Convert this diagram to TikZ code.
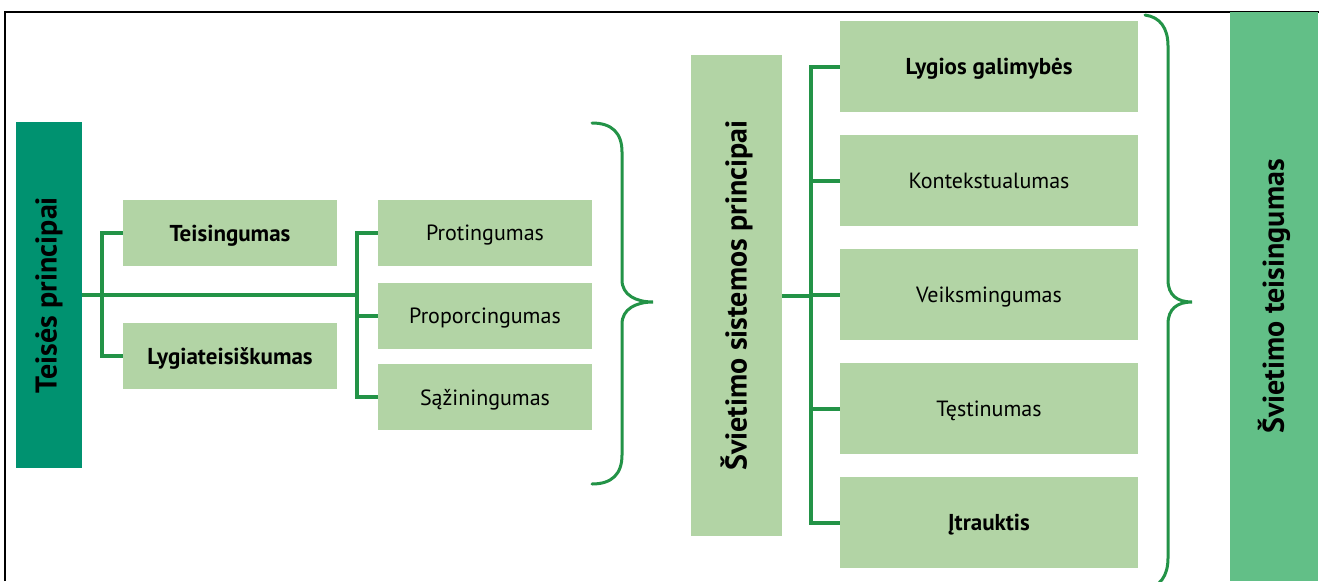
\documentclass[tikz,border=0pt]{standalone}
\usepackage{fontspec}
\setmainfont{PT Sans}
\begin{document}
\definecolor{darkgreen}{HTML}{009270}
\definecolor{palegreen}{HTML}{B2D4A5}
\definecolor{midgreen}{HTML}{62BF87}
\definecolor{linegreen}{HTML}{239347}
\begin{tikzpicture}[x=1pt,y=-1pt,
  box/.style={fill=palegreen, draw=none, inner sep=0pt, align=center,
    text depth=0pt, font=\fontsize{22}{24}\selectfont, text=black},
  boldlabel/.style={font=\bfseries\fontsize{23}{25}\selectfont},
  smallbox/.style={box, minimum width=214pt, minimum height=66pt},
  widebox/.style={box, minimum width=298pt, minimum height=91pt},
  title/.style={draw=none, inner sep=0pt,
    font=\bfseries\fontsize{30}{32}\selectfont, text=black},
  conn/.style={draw=linegreen, line width=4pt},
  brace/.style={draw=linegreen, line width=3pt, line cap=round},
  frame/.style={draw=black, line width=1.6pt}
]
\clip (0,0) rectangle (1319,581);
\fill[white] (0,0) rectangle (1319,581);

% outer frame (top and left edges)
\draw[frame] (5,581) -- (5,12) -- (1319,12);

% left column: legal principles
\node[title, fill=darkgreen, minimum width=66pt, minimum height=346pt] (tp) at (49,295) {};
\node[title, rotate=90] at (tp.center) {Teisės principai};

\node[smallbox, boldlabel] (teis) at (230,233) {Teisingumas};
\node[smallbox, boldlabel] (lyg) at (230,356) {Lygiateisiškumas};

\node[smallbox] (prot) at (485,233) {Protingumas};
\node[smallbox] (prop) at (485,316) {Proporcingumas};
\node[smallbox] (saz) at (485,397) {Sąžiningumas};

% connectors of the left group
\coordinate (j1) at (102,0);
\coordinate (j2) at (357,0);
\draw[conn] (teis.west) -- (teis.west -| j1) -- (lyg.west -| j1) -- (lyg.west);
\draw[conn] (prot.west) -- (prot.west -| j2) -- (saz.west -| j2) -- (saz.west);
\draw[conn] (prop.west) -- (prop.west -| j2);
\draw[conn] (tp.east) -- (tp.east -| j2);

% first brace
\draw[brace] (592,123) .. controls (612,123) and (622,133) .. (622,152)
  -- (622,280) .. controls (622,295) and (636,302) .. (653,302)
  .. controls (636,302) and (622,309) .. (622,324)
  -- (622,455) .. controls (622,474) and (612,484) .. (592,484);

% middle column: education system principles
\node[box, minimum width=91pt, minimum height=481pt] (ssp) at (736.5,295.5) {};
\node[title, rotate=90] at (ssp.center) {Švietimo sistemos principai};

\node[widebox, boldlabel] (r1) at (989,66.5) {Lygios galimybės};
\node[widebox] (r2) at (989,180.5) {Kontekstualumas};
\node[widebox] (r3) at (989,294.5) {Veiksmingumas};
\node[widebox] (r4) at (989,408.5) {Tęstinumas};
\node[widebox, boldlabel] (r5) at (989,522.5) {Įtrauktis};

\coordinate (j3) at (811,0);
\draw[conn] (r1.west) -- (r1.west -| j3) -- (r5.west -| j3) -- (r5.west);
\draw[conn] (r2.west) -- (r2.west -| j3);
\draw[conn] (r3.west) -- (r3.west -| j3);
\draw[conn] (r4.west) -- (r4.west -| j3);
\draw[conn] (ssp.east) -- (ssp.east -| j3);

% second brace
\draw[brace] (1145,15) .. controls (1160,17) and (1168,28) .. (1168,46)
  -- (1168,280) .. controls (1168,295) and (1177,302) .. (1192,302)
  .. controls (1177,302) and (1168,309) .. (1168,324)
  -- (1168,558) .. controls (1168,576) and (1160,587) .. (1145,589);

% right column: educational equity
\node[title, fill=midgreen, minimum width=88pt, minimum height=569pt] (st) at (1274,296.5) {};
\node[title, rotate=90] at (st.center) {Švietimo teisingumas};
\end{tikzpicture}
\end{document}
